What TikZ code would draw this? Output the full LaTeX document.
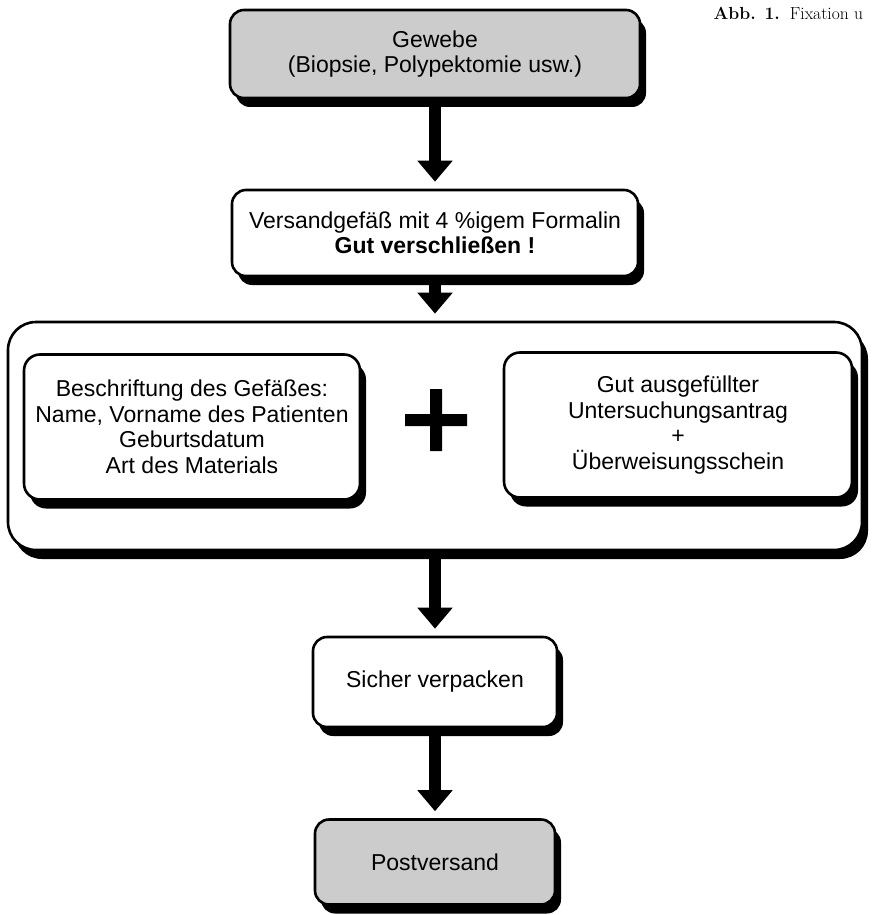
\documentclass[tikz,border=0pt]{standalone}
\usepackage{fontspec}
\setsansfont{Liberation Sans}
\usetikzlibrary{arrows.meta,shadows}

\tikzset{
	kasten/.style={draw, line width=2.6pt, rounded corners=14pt, fill=white, align=center, inner sep=0pt,
		drop shadow={shadow xshift=6pt, shadow yshift=-9pt, fill=black, opacity=1}},
	grau/.style={kasten, fill=black!20},
	pfeil/.style={line width=12pt, -{Triangle[width=34pt,length=21pt]}, shorten >=7pt}
}

\begin{document}
\begin{tikzpicture}[
			x=1pt, y=-1pt,
			every node/.style={font=\sffamily\fontsize{23}{25.5}\selectfont},
			line cap=butt,
			line join=round
			]
			\useasboundingbox (0,0) rectangle (873,915);

			\node[anchor=base west, font=\rmfamily\fontsize{17.5}{19}\selectfont] (abb) at (710,20) {\textbf{Abb. 1.}\hspace{10pt}Fixation u};

			\node[grau, minimum width=410pt, minimum height=88pt] (gewebe) at (435,54) {Gewebe\\(Biopsie, Polypektomie usw.)};
			\node[kasten, minimum width=406pt, minimum height=86pt] (gefaess) at (435,233) {Versandgefäß mit 4 \%igem Formalin\\\textbf{Gut verschließen !}};

			\node[kasten, rounded corners=28pt, minimum width=854pt, minimum height=228pt] (rahmen) at (435,436) {};
			\node[kasten, rounded corners=16pt, minimum width=336pt, minimum height=145pt] (beschriftung) at (192,427) {Beschriftung des Gefäßes:\\Name, Vorname des Patienten\\Geburtsdatum\\Art des Materials};
			\node[kasten, rounded corners=16pt, minimum width=348pt, minimum height=145pt] (antrag) at (678,425) {Gut ausgefüllter\\Untersuchungsantrag\\+\\Überweisungsschein};
			\coordinate (plus) at (436,420);
			\fill[shift={(plus)}] (-31,-6) rectangle (31,6) (-6,-31) rectangle (6,31);

			\node[kasten, minimum width=244pt, minimum height=90pt] (verpacken) at (435,682) {Sicher verpacken};
			\node[grau, minimum width=240pt, minimum height=85pt] (versand) at (435,862) {Postversand};

			\draw[pfeil] (gewebe.south) -- (gefaess.north);
			\draw[pfeil] (gefaess.south) -- (rahmen.north);
			\draw[pfeil] (rahmen.south) -- (verpacken.north);
			\draw[pfeil] (verpacken.south) -- (versand.north);
		\end{tikzpicture}
\end{document}
